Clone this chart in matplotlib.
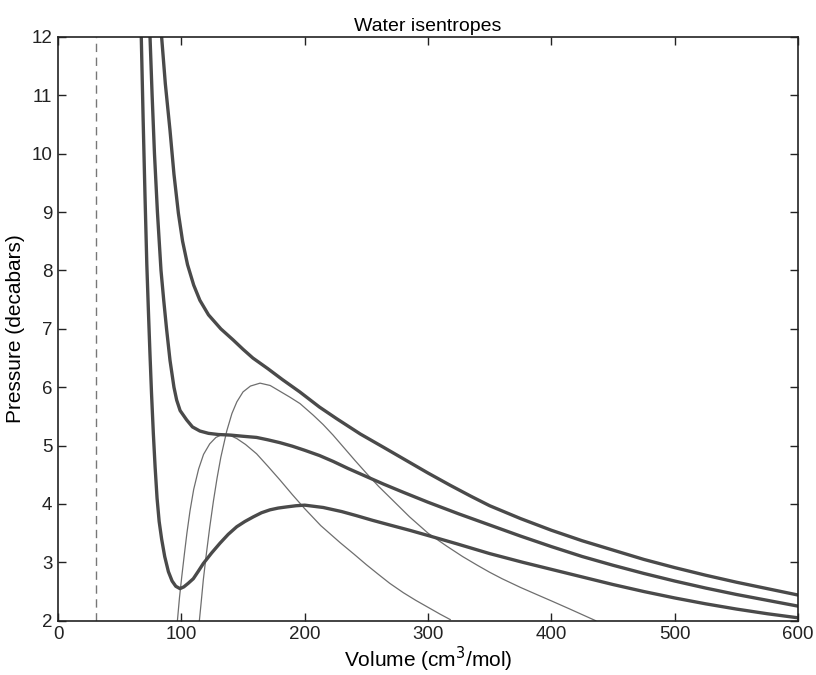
import matplotlib
matplotlib.use("Agg")
from matplotlib import pyplot as plt

# values (volume in cm^3/mol, pressure in decabars)
vol_a = [67.5, 69, 70.5, 72, 73.3, 74.5, 75.8, 77.3, 78.7, 80.3, 82, 84, 86.5, 89.5, 92.5,
         95.5, 98.9, 102, 105.5, 109.7, 113.5, 117.8, 124.5, 131.4, 138, 144.9, 151.5, 158.4,
         165, 171.9, 178.5, 185.4, 193, 200, 215, 230, 242, 255, 269, 285, 300, 323, 350, 377,
         400, 425, 450, 475, 500, 525, 550, 575, 600]
pres_a = [12, 10.6, 9.3, 8.1, 7.3, 6.6, 5.9, 5.2, 4.64, 4.1, 3.7, 3.4, 3.1, 2.84, 2.68,
          2.59, 2.55, 2.58, 2.64, 2.72, 2.84, 2.98, 3.16, 3.33, 3.48, 3.61, 3.70, 3.78,
          3.85, 3.90, 3.93, 3.95, 3.97, 3.98, 3.94, 3.87, 3.80, 3.72, 3.64, 3.55, 3.46, 3.32, 3.15, 3.0,
          2.88, 2.75, 2.62, 2.50, 2.39, 2.29, 2.2, 2.12, 2.05]

vol_b = [74.6, 76.3, 78.2, 80.6, 83.5, 85.7, 88, 90.8, 94, 96.2, 99, 104.3, 109, 115, 122,
         130, 140, 150, 161, 170, 180, 190, 200, 212, 223, 235, 250, 264, 280, 300, 325, 350,
         375, 400, 425, 450, 475, 500, 525, 550, 575, 600]
pres_b = [12, 11, 10, 9, 8, 7.49, 7, 6.46, 6, 5.78, 5.6, 5.44, 5.32, 5.25, 5.21,
          5.19, 5.18, 5.16, 5.14, 5.10, 5.05, 4.99, 4.92, 4.83, 4.73, 4.61, 4.47, 4.34, 4.20, 4.03, 3.83, 3.64,
          3.45, 3.27, 3.10, 2.95, 2.81, 2.68, 2.56, 2.45, 2.35, 2.25]

vol_c = [84, 87, 90.8, 94, 97.6, 101, 105, 110, 115, 122, 132, 142, 150, 158, 170, 182,
         196, 212, 226, 245, 264, 282, 300, 318, 335, 350, 375, 400, 425, 450, 475, 500,
         525, 550, 575, 600]
pres_c = [12, 11.2, 10.4, 9.65, 8.98, 8.5, 8.1, 7.75, 7.49, 7.24, 7.0, 6.81, 6.65, 6.5, 6.32, 6.13,
          5.92, 5.66, 5.46, 5.2, 4.97, 4.75, 4.53, 4.32, 4.13, 3.97, 3.75, 3.55, 3.37, 3.21, 3.05, 2.91,
          2.78, 2.66, 2.55, 2.44]

vol_thin1 = [96.8, 98.5, 100.3, 102.5, 104.5, 107, 110, 114, 118, 123, 128, 133, 138, 145,
             152, 161, 170, 180, 190, 200, 213, 228.6, 240, 250, 260, 269, 280, 290, 300, 310, 318]
pres_thin1 = [2.0, 2.4, 2.75, 3.15, 3.5, 3.88, 4.25, 4.6, 4.85, 5.03, 5.14, 5.19, 5.19, 5.12,
              5.02, 4.86, 4.65, 4.41, 4.16, 3.92, 3.63, 3.34, 3.14, 2.96, 2.79, 2.64, 2.48, 2.35, 2.23, 2.11, 2.02]

vol_thin2 = [114.6, 116, 117.8, 120, 123, 126, 129, 132, 136.8, 141, 145, 150, 156, 163.8,
             172, 180, 188, 196.2, 207, 215, 223, 232, 241, 250.3, 260, 270.6, 285, 300, 315,
             328, 340, 350, 360, 375, 388, 400, 415, 436]
pres_thin2 = [2.0, 2.3, 2.7, 3.1, 3.6, 4.05, 4.45, 4.8, 5.25, 5.55, 5.75, 5.92, 6.02, 6.07,
              6.03, 5.93, 5.83, 5.72, 5.52, 5.36, 5.18, 4.96, 4.74, 4.52, 4.30, 4.08, 3.78, 3.5, 3.28,
              3.1, 2.95, 2.83, 2.72, 2.57, 2.45, 2.34, 2.2, 2.0]

v_limit = 30.5
x_ticks = [0, 100, 200, 300, 400, 500, 600]
y_ticks = [2, 3, 4, 5, 6, 7, 8, 9, 10, 11, 12]

plt.rcParams['font.family'] = ['Liberation Sans', 'DejaVu Sans']

fig = plt.figure(figsize=(8.16, 6.75), dpi=100)
ax = fig.add_axes([0.0711, 0.0804, 0.9069, 0.8648])

thick = dict(color='#4a4a4a', lw=2.4, solid_joinstyle='round')
thin = dict(color='#6e6e6e', lw=0.9)

ax.plot(vol_thin1, pres_thin1, **thin)
ax.plot(vol_thin2, pres_thin2, **thin)
ax.plot(vol_a, pres_a, **thick)
ax.plot(vol_b, pres_b, **thick)
ax.plot(vol_c, pres_c, **thick)
ax.axvline(v_limit, color='#777777', lw=1.0, ls=(0, (6, 4)))

ax.set_xlim(0, 600)
ax.set_ylim(2, 12)
ax.set_xticks(x_ticks)
ax.set_yticks(y_ticks)
ax.tick_params(direction='in', top=True, right=True, length=6, width=1,
               labelsize=13.5, colors='#222222', pad=4)
for s in ax.spines.values():
    s.set_linewidth(1.2)
    s.set_color('#222222')

ax.set_xlabel('Volume (cm$^3$/mol)', fontsize=15, labelpad=1)
ax.set_ylabel('Pressure (decabars)', fontsize=15, labelpad=5)
ax.set_title('Water isentropes', fontsize=14, pad=4)

fig.savefig('out.png', dpi=100)
